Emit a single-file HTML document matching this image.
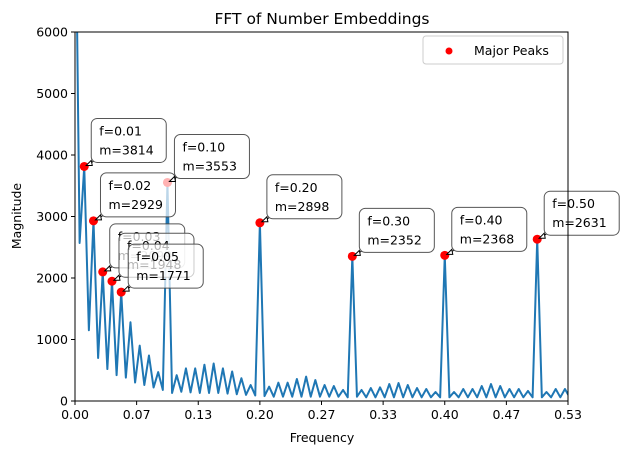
<!DOCTYPE html>
<html><head><meta charset="utf-8"><style>
body{margin:0;background:#fff;}
svg{display:block;font-family:"DejaVu Sans","Liberation Sans",sans-serif;}
</style></head><body>
<svg id="chart" width="623" height="455" viewBox="0 0 623 455" xmlns="http://www.w3.org/2000/svg">
<rect x="0" y="0" width="623" height="455" fill="#fff"/>
<text x="322" y="24" font-size="15.5" text-anchor="middle" fill="#000">FFT of Number Embeddings</text>
<g id="plot"></g>
<text x="322" y="442" font-size="12.5" text-anchor="middle">Frequency</text>
<text x="21" y="216" font-size="12.5" text-anchor="middle" transform="rotate(-90 21 216)">Magnitude</text>
<g>
<rect x="423" y="36" width="140" height="28" rx="3" fill="#fff" fill-opacity="0.8" stroke="#ccc"/>
<circle cx="449" cy="51" r="3.5" fill="red"/>
<text x="474" y="55" font-size="12.5">Major Peaks</text>
</g>
</svg>
<script>
const magnitudes = [9000,2570,3814,1150,2929,700,2099,520,1948,420,1771,380,1280,300,900,260,740,220,470,180,
3553,130,420,150,530,140,530,130,590,130,610,130,530,120,480,110,370,100,260,90,
2898,80,233,70,298,70,298,70,358,70,396,70,341,70,260,70,244,70,179,60,
2352,70,179,60,211,60,222,60,276,60,292,60,260,60,211,60,195,60,146,60,
2368,60,146,60,195,60,195,60,244,60,276,60,244,60,195,60,195,60,163,60,
2631,60,146,60,195,60,195,60];
const freqStep = 0.005;
const peakFreqs = [0.01,0.02,0.03,0.04,0.05,0.10,0.20,0.30,0.40,0.50];
const peakMags = [3814,2929,2099,1948,1771,3553,2898,2352,2368,2631];
const xTickLabels = ["0.00","0.07","0.13","0.20","0.27","0.33","0.40","0.47","0.53"];
const yTicks = [0,1000,2000,3000,4000,5000,6000];

const NS="http://www.w3.org/2000/svg";
const L=75,R=568,T=32,B=401,XMAX=0.5333,YMAX=6000;
const sx=f=>L+(f/XMAX)*(R-L);
const sy=v=>B-(v/YMAX)*(B-T);
const plot=document.getElementById('plot');
function mk(tag,attrs,parent){const e=document.createElementNS(NS,tag);for(const k in attrs)e.setAttribute(k,attrs[k]);(parent||plot).appendChild(e);return e;}

const defs=mk('defs',{});
const cp=mk('clipPath',{id:'clip'},defs);
mk('rect',{x:L,y:T,width:R-L,height:B-T},cp);

let d='';
magnitudes.forEach((m,i)=>{d+=(i?'L':'M')+sx(i*freqStep).toFixed(2)+','+sy(m).toFixed(2);});
const line=mk('path',{d:d,fill:'none',stroke:'#1f77b4','stroke-width':2,'stroke-linejoin':'round','clip-path':'url(#clip)'});



peakFreqs.forEach((f,i)=>{
  const c=mk('circle',{cx:sx(f),cy:sy(peakMags[i]),r:4.5,fill:'red'});
  
  
});

peakFreqs.forEach((f,i)=>{
  const px=sx(f),py=sy(peakMags[i]);
  const g=mk('g',{});
  
  
  const bx=px+7,by=py-48;
  mk('path',{d:`M${bx+2},${py-5} L${px+4},${py-2}`,stroke:'#000','stroke-width':1,fill:'none'},g);
  mk('path',{d:`M${px+2},${py-1} L${px+7},${py-6} L${px+8},${py-1} Z`,stroke:'#000','stroke-width':1,fill:'#fff'},g);
  mk('rect',{x:bx,y:by,width:75,height:44,rx:6,fill:'#fff','fill-opacity':0.7,stroke:'#444','stroke-opacity':0.9,'stroke-width':1},g);
  const t1=mk('text',{x:bx+8,y:by+17,'font-size':12.5},g);t1.textContent='f='+f.toFixed(2);
  const t2=mk('text',{x:bx+8,y:by+36,'font-size':12.5},g);t2.textContent='m='+peakMags[i];
});

const fr=mk('rect',{x:L,y:T,width:R-L,height:B-T,fill:'none',stroke:'#000','stroke-width':1});



xTickLabels.forEach((lab,i)=>{
  const x=L+i*(R-L)/(xTickLabels.length-1);
  mk('line',{x1:x,y1:B,x2:x,y2:B+4,stroke:'#000'});
  const t=mk('text',{x:x,y:B+18,'font-size':12.5,'text-anchor':'middle'});
  t.textContent=lab;
  
  
});
yTicks.forEach(v=>{
  const y=sy(v);
  mk('line',{x1:L-4,y1:y,x2:L,y2:y,stroke:'#000'});
  const t=mk('text',{x:L-7,y:y+4.5,'font-size':12.5,'text-anchor':'end'});
  t.textContent=v;
  
  
});
</script>
</body></html>
